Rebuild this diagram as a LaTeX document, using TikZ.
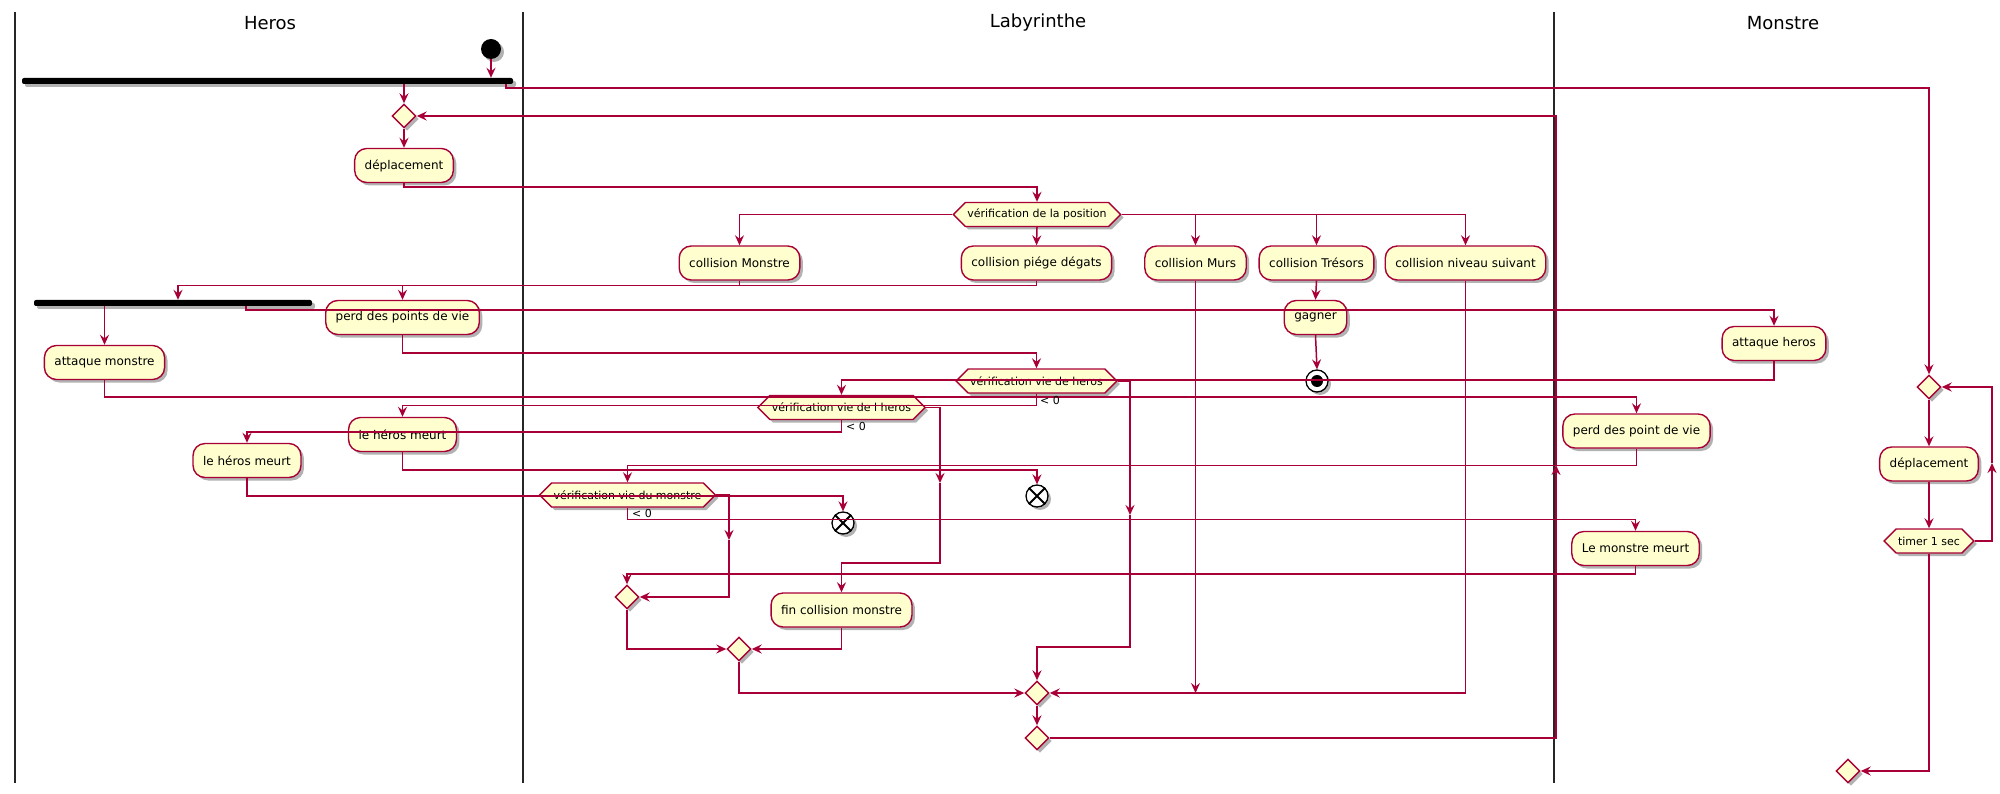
\documentclass[tikz,border=0pt]{standalone}
\usepackage{fontspec}
\setmainfont{DejaVu Sans}
\usetikzlibrary{arrows.meta,shapes.geometric,shapes.symbols,shadows}
\definecolor{pborder}{HTML}{A80036}
\definecolor{pfill}{HTML}{FEFECE}
\begin{document}
\begin{tikzpicture}[x=1pt,y=-1pt,
  shad/.style={drop shadow={shadow xshift=3pt,shadow yshift=-3pt,opacity=0.3,fill=black}},
  act/.style={draw=pborder,fill=pfill,line width=1.4pt,rounded corners=12pt,minimum height=34pt,inner xsep=10pt,inner ysep=0pt,font=\fontsize{12}{14}\selectfont,shad},
  hexa/.style={shape=signal,signal to=west and east,draw=pborder,fill=pfill,line width=1.4pt,minimum height=24pt,inner xsep=2pt,inner ysep=0pt,font=\fontsize{11}{13}\selectfont,shad},
  dia/.style={shape=diamond,draw=pborder,fill=pfill,line width=1.4pt,minimum width=24pt,minimum height=24pt,inner sep=0pt,shad},
  fbar/.style={fill=black,rounded corners=2pt,minimum height=6pt,inner sep=0pt,shad},
  arr/.style={draw=pborder,line width=1.5pt,-{Stealth[length=10pt,width=9pt,inset=3.5pt]}},
  lane/.style={line width=1.6pt,black!85},
  ltitle/.style={font=\fontsize{18}{22}\selectfont},
  lbl/.style={font=\fontsize{11}{13}\selectfont,anchor=west,inner sep=0pt},
  startc/.style={circle,fill=black,minimum size=20pt,inner sep=0pt,shad},
  stopc/.style={circle,draw=black,fill=white,line width=1.3pt,minimum size=22pt,inner sep=0pt,shad},
  killc/.style={circle,draw=black,fill=white,line width=1.3pt,minimum size=22pt,inner sep=0pt,shad},
]
\useasboundingbox (0,0) rectangle (2000,794);
% lanes
\draw[lane] (15,12) -- (15,783);
\draw[lane] (523,12) -- (523,783);
\draw[lane] (1554,12) -- (1554,783);
\node[ltitle] (th) at (270,23) {Heros};
\node[ltitle] (tl) at (1038,23) {Labyrinthe};
\node[ltitle] (tm) at (1783,23) {Monstre};

% nodes
\node[startc] (start) at (491,49) {};
\node[fbar,minimum width=491pt] (bar1) at (267.5,81) {};
\node[dia] (d1) at (404,116) {};
\node[act] (dep) at (404,165.5) {déplacement};
\node[hexa] (hpos) at (1037,214.5) {vérification de la position};
\node[act] (cmon) at (739.5,263) {collision Monstre};
\node[act] (cpiege) at (1036.5,263) {collision piége dégats};
\node[act] (murs) at (1195.5,263) {collision Murs};
\node[act] (tres) at (1316.5,263) {collision Trésors};
\node[act] (niv) at (1465.5,263) {collision niveau suivant};
\node[fbar,minimum width=278pt] (bar2) at (173,303) {};
\node[act] (perdh) at (402.5,317.5) {perd des points de vie};
\node[act] (attm) at (104.5,362.5) {attaque monstre};
\node[act] (gagner) at (1315.5,317.5) {gagner};
\node[stopc] (stop) at (1317,381) {};
\fill (stop.center) circle[radius=6];
\node[act] (atth) at (1774,343.5) {attaque heros};
\node[hexa] (hvh) at (1036.5,381) {vérification vie de heros};
\node[hexa] (hvlh) at (841.5,407.5) {vérification vie de l heros};
\node[act] (hm1) at (402.5,434.5) {le héros meurt};
\node[act] (hm2) at (247,460.5) {le héros meurt};
\node[act] (perdm) at (1636.5,431) {perd des point de vie};
\node[killc] (k1) at (1037,496) {};
\draw[line width=1.8pt] (k1.45) -- (k1.225) (k1.135) -- (k1.315);
\node[hexa] (hvm) at (627.5,495) {vérification vie du monstre};
\node[killc] (k2) at (843,523) {};
\draw[line width=1.8pt] (k2.45) -- (k2.225) (k2.135) -- (k2.315);
\node[act] (lmm) at (1635.5,548.5) {Le monstre meurt};
\node[dia] (dA) at (627,597) {};
\node[act] (fin) at (841.5,610) {fin collision monstre};
\node[dia] (dB) at (739,649) {};
\node[dia] (dC) at (1037,693) {};
\node[dia] (dD) at (1037,738) {};
\node[dia] (m1) at (1929,387) {};
\node[act] (depm) at (1929,464) {déplacement};
\node[hexa] (timer) at (1929,541) {timer 1 sec};
\node[dia] (m2) at (1848,771) {};

% free ends
\coordinate (e1) at (1130,515);
\coordinate (e2) at (940,483);
\coordinate (e3) at (729,540);
\coordinate (e5) at (1556,465);
\coordinate (e6) at (1992,463);

% connectors
\draw[arr] (start.south) -- (start.south |- bar1.north);
\draw[arr] (d1.north |- bar1.south) -- (d1.north);
\draw[arr] ([xshift=-7pt]bar1.south east) -- ++(0,4) -| (m1.north);
\draw[arr] (d1.south) -- (dep.north);
\draw[arr] (dep.south) -- ++(0,4) -| (hpos.north);
\draw[arr] (hpos.west) -| (cmon.north);
\draw[arr] (hpos.south) -- (cpiege.north);
\draw[arr] (hpos.east) -| (murs.north);
\draw[arr] (hpos.east) -| (tres.north);
\draw[arr] (hpos.east) -| (niv.north);
\draw[arr] (cmon.south) -- ++(0,5) -| ([xshift=5pt]bar2.north);
\draw[arr] (cpiege.south) -- ++(0,5) -| (perdh.north);
\draw[arr] (bar2.south -| attm.north) -- (attm.north);
\draw[arr] ([xshift=-66pt]bar2.south east) -- ++(0,4) -| (atth.north);
\draw[arr] (tres.south) -- (gagner.north);
\draw[arr] (gagner.south) -- (stop.north);
\draw[arr] (perdh.south) -- ++(0,18) -| (hvh.north);
\draw[arr] (hvh.south) -- ++(0,12) -| (hm1.north);
\draw[arr] (hvh.east) -| (e1);
\draw[arr] (e1) -- ++(0,132) -| (dC.north);
\draw[arr] (atth.south) -- ++(0,19) -| (hvlh.north);
\draw[arr] (attm.south) -- ++(0,17) -| (perdm.north);
\draw[arr] (hvlh.south) -- ++(0,12) -| (hm2.north);
\draw[arr] (hvlh.east) -| (e2);
\draw[arr] (e2) -- ++(0,80) -| (fin.north);
\draw[arr] (hm1.south) -- ++(0,18) -| (k1.north);
\draw[arr] (hm2.south) -- ++(0,18) -| (k2.north);
\draw[arr] (perdm.south) -- ++(0,17) -| (hvm.north);
\draw[arr] (hvm.south) -- ++(0,12) -| (lmm.north);
\draw[arr] (hvm.east) -| (e3);
\draw[arr] (e3) |- (dA.east);
\draw[arr] (lmm.south) -- ++(0,8) -| (dA.north);
\draw[arr] (dA.south) |- (dB.west);
\draw[arr] (fin.south) |- (dB.east);
\draw[arr] (dB.south) |- (dC.west);
\draw[arr] (murs.south) -- (murs.south |- dC.east);
\draw[arr] (niv.south) |- (dC.east);
\draw[arr] (dC.south) -- (dD.north);
\draw[arr] (dD.east) -| (e5);
\draw[arr] (e5) |- (d1.east);
\draw[arr] (m1.south) -- (depm.north);
\draw[arr] (depm.south) -- (timer.north);
\draw[arr] (timer.east) -| (e6);
\draw[arr] (e6) |- (m1.east);
\draw[arr] (timer.south) |- (m2.east);

% labels
\node[lbl] (l1) at (1040,400) {< 0};
\node[lbl] (l2) at (846,426) {< 0};
\node[lbl] (l3) at (632,513) {< 0};
\end{tikzpicture}
\end{document}
